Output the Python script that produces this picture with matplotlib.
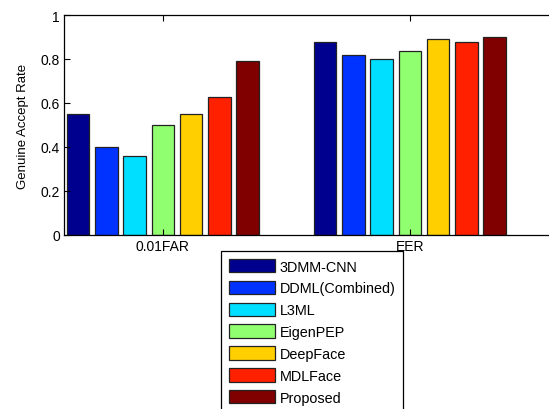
import numpy as np
import matplotlib
matplotlib.use("Agg")
import matplotlib.pyplot as plt

plt.rcParams["font.family"] = ["Liberation Sans", "DejaVu Sans"]

groups = ["0.01FAR", "EER"]
methods = ["3DMM-CNN", "DDML(Combined)", "L3ML", "EigenPEP", "DeepFace", "MDLFace", "Proposed"]
far_001 = [0.55, 0.40, 0.36, 0.50, 0.55, 0.626, 0.79]
eer = [0.876, 0.818, 0.798, 0.838, 0.889, 0.876, 0.898]
colors = ["#00008f", "#0033ff", "#00dfff", "#90ff70", "#ffcf00", "#ff2000", "#800000"]

values = np.array([far_001, eer])
n = len(methods)
group_width = min(0.8, n / (n + 1.5))
step = group_width / n
x = np.arange(1, len(groups) + 1)

fig = plt.figure(figsize=(5.49, 4.10), dpi=100)
ax = fig.add_axes([64 / 549, 174 / 410, 494 / 549, 220 / 410])

for i in range(n):
    offset = (i - (n - 1) / 2) * step
    ax.bar(x + offset, values[:, i], width=step * 0.8, color=colors[i],
           edgecolor="#222222", linewidth=0.9, label=methods[i])

ax.set_xlim(0.6, 2.6)
ax.set_ylim(0, 1)
ax.set_xticks(x)
ax.set_xticklabels(groups, fontsize=10)
ax.set_yticks(np.arange(0, 1.01, 0.2))
ax.set_yticklabels(["0", "0.2", "0.4", "0.6", "0.8", "1"], fontsize=10)
ax.tick_params(direction="in", top=True, right=True, length=4, width=0.8, pad=3)
ax.set_ylabel("Genuine Accept Rate", fontsize=9.5, labelpad=8)
for s in ax.spines.values():
    s.set_linewidth(0.9)

leg = fig.legend(loc="upper left", bbox_to_anchor=(221 / 549, 1 - 252 / 410),
                 fontsize=10.4, handlelength=3.2, handleheight=1.05,
                 labelspacing=0.5, handletextpad=0.3, borderpad=0.55,
                 borderaxespad=0, fancybox=False, framealpha=1)
leg.get_frame().set_edgecolor("black")
leg.get_frame().set_linewidth(0.9)

fig.savefig("out.png", dpi=100)
